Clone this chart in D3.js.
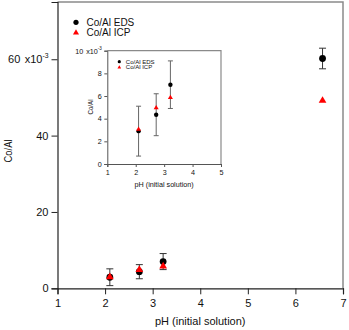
<!DOCTYPE html>
<html>
<head>
<meta charset="utf-8">
<script src="https://cdn.jsdelivr.net/npm/d3@7"></script>
<style>
  body { margin: 0; background: #fff; }
  text { font-family: "Liberation Sans", Arial, sans-serif; }
</style>
</head>
<body>
<div id="chart"></div>
<script>
// data (values in units of 1e-3) ***********
var ph = [2.1, 2.72, 3.22, 6.57];
var eds = [2.9, 4.35, 7.0, 60.2];
var edsErr = [2.2, 1.85, 2.1, 2.7];
var icp = [3.1, 5.0, 5.9, 49.3];
var phInset = [2.1, 2.72, 3.22];
var xTicks = [1, 2, 3, 4, 5, 6, 7];
var yTicks = [0, 20, 40, 60];
var xTicksInset = [1, 2, 3, 4, 5];
var yTicksInset = [0, 2, 4, 6, 8, 10];

var svgWidth = 349, svgHeight = 330;

var svg = d3.select("#chart").append("svg")
  .attr("width", svgWidth)
  .attr("height", svgHeight);

var tri = d3.symbol().type(d3.symbolTriangle);

// draws one panel (main or inset)
function panel(opt) {
  var x = d3.scaleLinear().domain(opt.xDomain).range([opt.left, opt.right]);
  var y = d3.scaleLinear().domain(opt.yDomain).range([opt.bottom, opt.top]);
  var g = svg.append("g");

  // frame (top and right) in gray
  g.append("path")
    .attr("d", `M${opt.left},${opt.top}H${opt.right}V${opt.bottom}`)
    .attr("fill", "none")
    .attr("stroke", "#8a8a8a")
    .attr("stroke-width", opt.frameW);

  var xAxis = g.append("g")
    .attr("transform", `translate(0,${opt.bottom})`)
    .call(d3.axisBottom(x).tickValues(opt.xTicks).tickSize(opt.tick).tickPadding(opt.padX).tickFormat(d3.format("d")));
  var yAxis = g.append("g")
    .attr("transform", `translate(${opt.left},0)`)
    .call(d3.axisLeft(y).tickValues(opt.yTicks).tickSize(opt.tick).tickPadding(opt.padY).tickFormat(d3.format("d")));

  [xAxis, yAxis].forEach(function(a) {
    a.select(".domain").attr("stroke", opt.axisColor).attr("stroke-width", opt.axisW);
    a.selectAll(".tick line").attr("stroke", opt.axisColor);
    a.selectAll("text").attr("font-size", opt.font).attr("fill", "#111")
      .style("font-family", "'Liberation Sans', Arial, sans-serif");
  });

  // x10^-3 on top tick
  var topTick = opt.yTicks[opt.yTicks.length - 1];
  yAxis.selectAll(".tick").filter(d => d === topTick).select("text")
    .text(null)
    .call(function(t) {
      t.append("tspan").text(topTick);
      t.append("tspan").text("x10").attr("dx", opt.font * 0.4);
      t.append("tspan").text("-3").attr("font-size", opt.font * 0.62).attr("dy", "-0.75em");
    });

  // axis titles (the y title is a little narrow in the reference)
  g.append("text")
    .attr("transform", `translate(${opt.yLabelX},${opt.yLabelY}) rotate(-90)`)
    .attr("text-anchor", "middle")
    .attr("font-size", opt.font)
    .attr("textLength", opt.yLabelLen)
    .attr("lengthAdjust", "spacingAndGlyphs")
    .attr("fill", "#111")
    .text("Co/Al");
  g.append("text")
    .attr("x", (opt.left + opt.right) / 2)
    .attr("y", opt.xLabelY)
    .attr("text-anchor", "middle")
    .attr("font-size", opt.font)
    .attr("fill", "#111")
    .text("pH (initial solution)");

  // error bars
  var eb = g.append("g").attr("stroke", opt.errColor).attr("stroke-width", 1);
  opt.xs.forEach(function(px, i) {
    var cx = x(px), y0 = y(eds[i] - edsErr[i]), y1 = y(eds[i] + edsErr[i]);
    eb.append("line").attr("x1", cx).attr("x2", cx).attr("y1", y0).attr("y2", y1);
    eb.append("line").attr("x1", cx - opt.cap).attr("x2", cx + opt.cap).attr("y1", y0).attr("y2", y0);
    eb.append("line").attr("x1", cx - opt.cap).attr("x2", cx + opt.cap).attr("y1", y1).attr("y2", y1);
  });

  // EDS circles
  g.selectAll(".eds").data(opt.xs).enter().append("circle")
    .attr("cx", d => x(d))
    .attr("cy", (d, i) => y(eds[i]))
    .attr("r", opt.r)
    .attr("fill", "#000");

  // ICP triangles
  g.selectAll(".icp").data(opt.xs).enter().append("path")
    .attr("d", tri.size(opt.triSize))
    .attr("transform", (d, i) => `translate(${x(d)},${y(icp[i]) + 0.5})`)
    .attr("fill", "#f00");

  // legend
  var lg = g.append("g").attr("transform", `translate(${opt.legX},${opt.legY})`);
  lg.append("circle").attr("cx", 0).attr("cy", 0).attr("r", opt.legR).attr("fill", "#000");
  lg.append("path").attr("d", tri.size(opt.legTri)).attr("transform", `translate(0,${opt.legGap})`).attr("fill", "#f00");
  lg.append("text").attr("x", opt.legText).attr("y", 0).attr("dy", "0.35em")
    .attr("font-size", opt.legFont).attr("fill", "#111").text("Co/Al EDS");
  lg.append("text").attr("x", opt.legText).attr("y", opt.legGap).attr("dy", "0.35em")
    .attr("font-size", opt.legFont).attr("fill", "#111").text("Co/Al ICP");
}

// main chart
panel({
  xDomain: [1, 7], yDomain: [0, 75],
  left: 57.5, right: 343, top: 2, bottom: 288.3,
  xTicks: xTicks, yTicks: yTicks,
  tick: 6, padX: 5, padY: 3, font: 11,
  axisColor: "#222", errColor: "#333", axisW: 1.2, frameW: 1.5,
  yLabelX: 12, yLabelY: 151, yLabelLen: 23, xLabelY: 325,
  xs: ph, r: 3.4, triSize: 26, cap: 3.5,
  legX: 76, legY: 22.3, legGap: 10.4, legText: 10.5, legR: 2.6, legTri: 16, legFont: 10
});

// inset
panel({
  xDomain: [1, 5], yDomain: [0, 10],
  left: 107.3, right: 221, top: 50.7, bottom: 164,
  xTicks: xTicksInset, yTicks: yTicksInset,
  tick: 3, padX: 3, padY: 2.5, font: 7.2,
  axisColor: "#555", errColor: "#666", axisW: 1, frameW: 1.2,
  yLabelX: 93, yLabelY: 107, yLabelLen: 15, xLabelY: 187,
  xs: phInset, r: 2.2, triSize: 11, cap: 2.5,
  legX: 119.3, legY: 61.7, legGap: 5.6, legText: 6.5, legR: 1.6, legTri: 6, legFont: 6
});
</script>
</body>
</html>
